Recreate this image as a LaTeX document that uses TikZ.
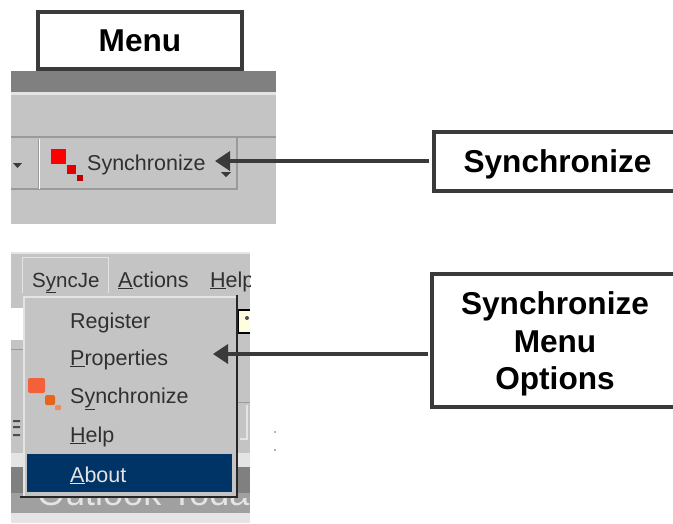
\documentclass[tikz,border=0pt]{standalone}
\usepackage{fontspec}
\setmainfont{Liberation Sans}
\usetikzlibrary{arrows.meta}
\definecolor{uigray}{HTML}{C4C4C4}
\definecolor{uidark}{HTML}{808080}
\definecolor{uimid}{HTML}{A0A0A0}
\definecolor{uiline}{HTML}{9A9A9A}
\definecolor{uipale}{HTML}{E4E4E4}
\definecolor{framec}{HTML}{3A3A3A}
\definecolor{uitext}{HTML}{303030}
\definecolor{navy}{HTML}{003366}
\definecolor{iconA}{HTML}{F4603A}
\definecolor{iconB}{HTML}{E8641A}
\definecolor{iconC}{HTML}{F08A60}
\newcommand{\ul}[1]{\underline{#1}}
\tikzset{
  x=1pt,y=-1pt,
  callout/.style={draw=framec,line width=4pt,fill=white,align=center,inner sep=0pt,
    font=\fontsize{31.6}{37.7}\selectfont\bfseries,text=black},
  uilabel/.style={anchor=base west,inner sep=0pt,font=\fontsize{21.5}{24}\selectfont,text=uitext},
  pointer/.style={draw=framec,line width=3.5pt,-{Triangle[length=15pt,width=19pt]}},
  edge3d/.style={line width=1.5pt}
}
\begin{document}
\begin{tikzpicture}
\useasboundingbox (0,0) rectangle (673,523);
\fill[white] (0,0) rectangle (673,523);
% --- top screenshot
\fill[uigray] (11,71) rectangle (276,224);
\fill[uidark] (11,71) rectangle (276,92);
\fill[uipale] (11,92) rectangle (276,95);
\draw[uiline,edge3d] (11,137) -- (276,137);
\draw[uiline,edge3d] (11,189) -- (237,189);
\draw[uiline,edge3d] (237,138) -- (237,190);
\draw[uiline,line width=1pt] (38,139) -- (38,189);
\draw[white,line width=1.2pt] (39.5,139) -- (39.5,189);
\fill[framec] (13,163) -- (22,163) -- (17.5,168) -- cycle;
\fill[red] (51,149) rectangle (66,164);
\fill[red!90!black] (67,165) rectangle (76,174);
\fill[red!75!black] (77,175) rectangle (83,181);
\node[uilabel] (sy1) at (87,170) {Synchronize};
\fill[framec] (221,172) -- (231,172) -- (226,177) -- cycle;
% --- lower screenshot
\fill[uigray] (11,252) rectangle (250,523);
\fill[uipale] (11,252) rectangle (250,254);
\fill[white] (11,308) rectangle (24,340);
\draw[uiline,line width=1pt] (11,349) -- (24,349);
\draw[uiline,line width=1pt] (237,402) -- (250,402);
\fill[uipale] (11,453) rectangle (250,467);
\fill[uidark] (11,467) rectangle (250,493);
\fill[uimid] (11,493) rectangle (250,513);
\fill[uipale] (11,513) rectangle (250,523);
\draw[uipale,line width=1.5pt] (240,439) -- (247,439) -- (247,405);
\fill[yellow!12] (238,309) rectangle (250,333);
\draw[black,line width=1.5pt] (250,310) -- (238,310) -- (238,333) -- (250,333);
\fill[black!70] (247,318) circle (2);
\fill[black!70] (13,420) rectangle (20,422) (13,426) rectangle (20,428) (13,434) rectangle (20,436);
\begin{scope}
  \clip (11,498) rectangle (250,523);
  \node[anchor=base west,inner sep=0pt,text=uipale,font=\fontsize{36}{40}\selectfont] (todaybg) at (37,505) {Outlook Toda};
\end{scope}
\draw[uipale,line width=1pt] (22,293) -- (22,257) -- (108,257) -- (108,293);
\node[uilabel,font=\fontsize{20.5}{24}\selectfont] (mSync) at (32,287) {S\ul{y}ncJe};
\node[uilabel] (mAct) at (118,287) {\ul{A}ctions};
\begin{scope}
  \clip (11,252) rectangle (250,296);
  \node[uilabel] (mHelp) at (210,287) {\ul{H}elp};
\end{scope}
% drop-down menu
\fill[uigray] (24,297) rectangle (236,497);
\draw[uipale,line width=1.5pt] (24,497) -- (24,297) -- (236,297);
\draw[black!85,line width=1.5pt] (237,295) -- (237,497) -- (20,497);
\fill[navy] (27,454) rectangle (232,492);
\node[uilabel] (iReg) at (70,328) {Register};
\node[uilabel] (iProp) at (70,365) {\ul{P}roperties};
\node[uilabel] (iSync) at (70,403) {S\ul{y}nchronize};
\node[uilabel] (iHelp) at (70,442) {\ul{H}elp};
\node[uilabel,text=uipale] (iAbout) at (70,482) {\ul{A}bout};
\fill[iconA,rounded corners=2pt] (28,378) rectangle (45,393);
\fill[iconB,rounded corners=1.5pt] (45,395) rectangle (55,405);
\fill[iconC,rounded corners=1pt] (55,405) rectangle (61,410);
\fill[black!60] (275,432) circle (0.9) (275,450) circle (0.9);
% --- callouts
\node[callout,minimum width=204pt,minimum height=57pt] (menu) at (140,40.5) {\raisebox{-2pt}{Menu}};
\draw[draw=framec,line width=4pt,fill=white] (680,132) -- (434,132) -- (434,191) -- (680,191);
\node[callout,draw=none,fill=none] (sync) at (557.5,164) {Synchronize};
\draw[draw=framec,line width=4pt,fill=white] (680,274) -- (432,274) -- (432,407) -- (680,407);
\node[callout,draw=none,fill=none] (opts) at (555,344) {Synchronize\\Menu\\Options};
% --- connectors
\coordinate (tipA) at (215,161);
\coordinate (tailA) at (429,161);
\coordinate (tipB) at (213,354);
\coordinate (tailB) at (428,354);
\draw[pointer] (tailA) -- (tipA);
\draw[pointer] (tailB) -- (tipB);
\end{tikzpicture}
\end{document}
